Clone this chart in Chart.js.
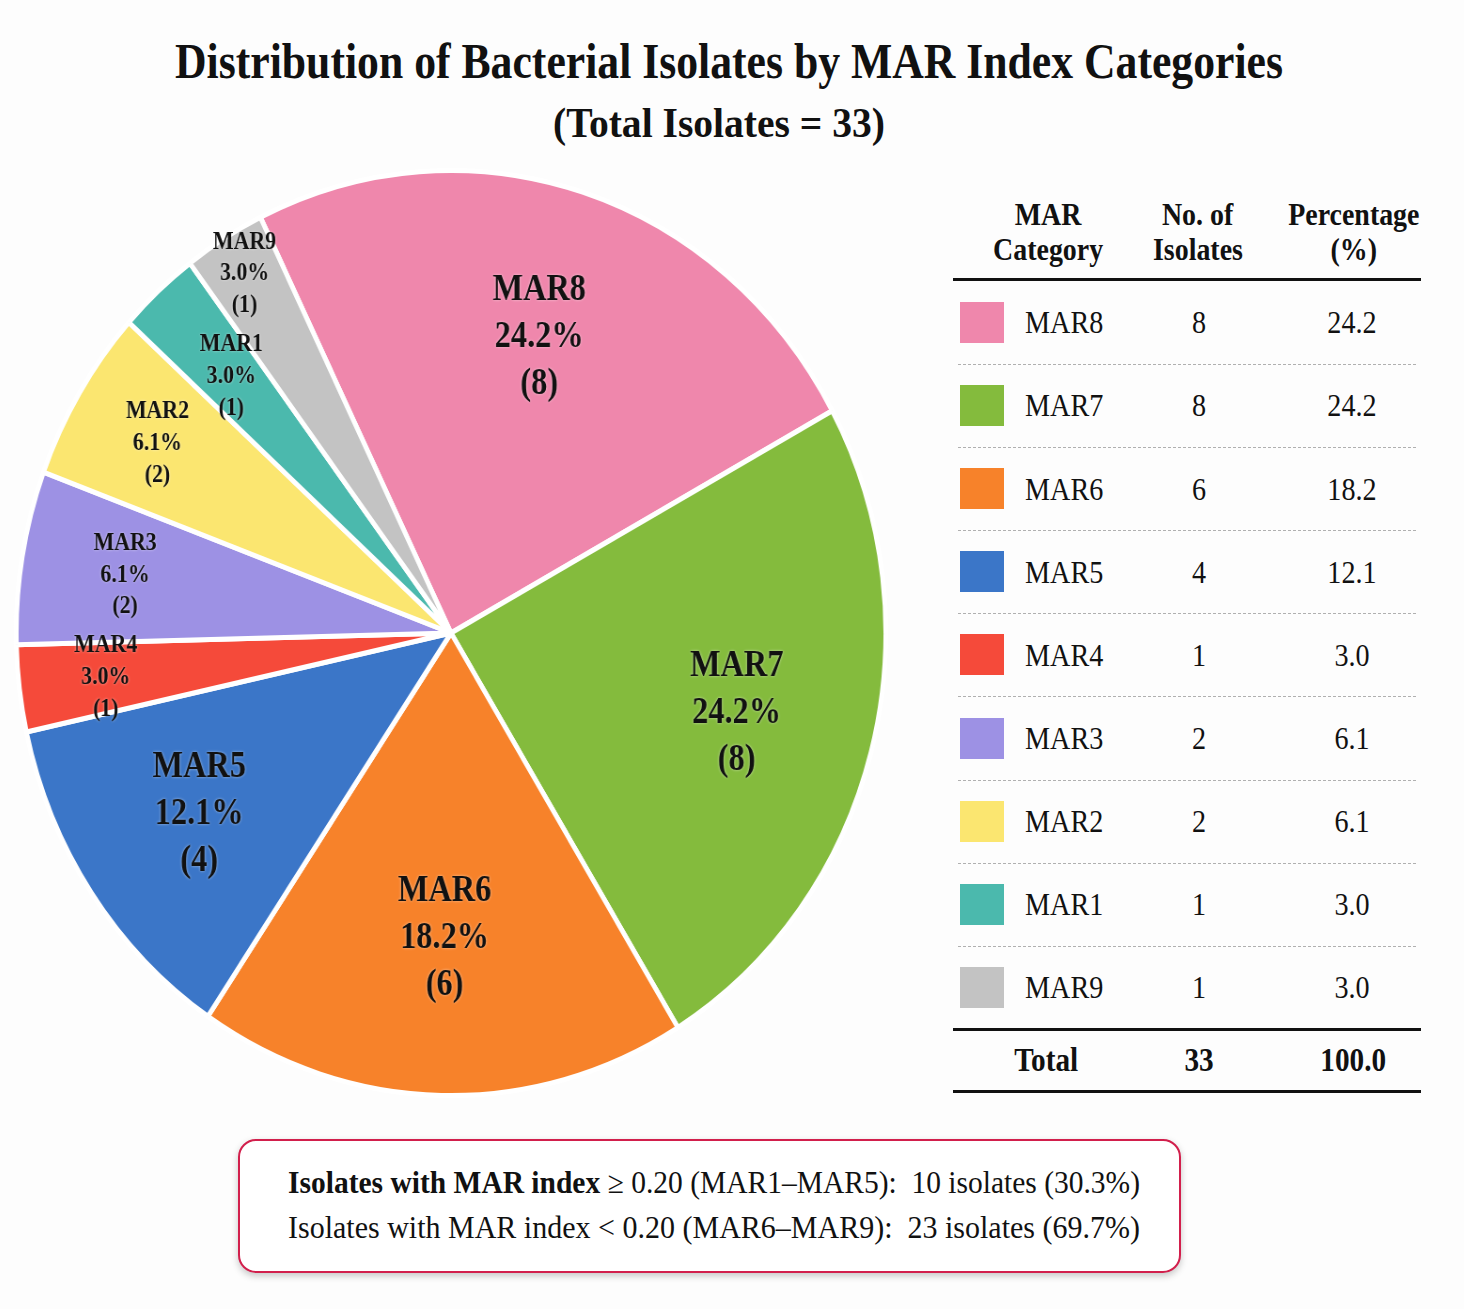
<!DOCTYPE html>
<html>
<head>
<meta charset="utf-8">
<script src="https://cdn.jsdelivr.net/npm/chart.js@4.4.1/dist/chart.umd.min.js"></script>
<style>
  html, body { margin:0; padding:0; background:#fdfdfd; }
  body { width:1464px; height:1309px; position:relative; overflow:hidden;
         font-family:'Liberation Serif','Times New Roman',serif; color:#111; }
  .fit { position:absolute; white-space:nowrap; line-height:1; transform-origin:0 0; }
  .cell { position:absolute; white-space:nowrap; line-height:1; transform-origin:50% 50%; }
  .hline { position:absolute; }
  #pieWrap { position:absolute; width:930px; height:930px; left:-14px; top:168px;
             transform:scaleX(0.94); transform-origin:50% 50%; }
  #box { position:absolute; left:238px; top:1139px; width:939px; height:130px;
         border:2.5px solid #d21f4c; border-radius:18px; background:#fff;
         box-shadow:0 3px 7px rgba(0,0,0,0.22); }
</style>
</head>
<body>
<div id="title" class="fit" style="font-weight:bold">Distribution of Bacterial Isolates by MAR Index Categories</div>
<div id="subtitle" class="fit" style="font-weight:bold">(Total Isolates = 33)</div>
<div id="pieWrap"><canvas id="pie"></canvas></div>
<div id="table"></div>
<div id="box"></div>
<div id="sum1" class="fit"></div>
<div id="sum2" class="fit"></div>
<script>
// ---- data ----
const categories = ['MAR8','MAR7','MAR6','MAR5','MAR4','MAR3','MAR2','MAR1','MAR9'];
const isolates = [8, 8, 6, 4, 1, 2, 2, 1, 1];
const percentages = [24.2, 24.2, 18.2, 12.1, 3.0, 6.1, 6.1, 3.0, 3.0];
const headerLines = [['MAR','Category'], ['No. of','Isolates'], ['Percentage','(%)']];
const totalRow = ['Total', '33', '100.0'];
const summaryBold = ['Isolates with MAR index', ''];
const summaryRest = [' \u2265 0.20 (MAR1\u2013MAR5):\u00a0 10 isolates (30.3%)',
                     'Isolates with MAR index < 0.20 (MAR6\u2013MAR9):\u00a0 23 isolates (69.7%)'];

// ---- styles ----
const sliceColors = ['#ef87ac','#84bb3d','#f7822a','#3b76c8','#f54a3a','#9d91e4','#fbe670','#4bb9ad','#c3c3c3'];
const labelRadius = [0.67, 0.68, 0.66, 0.70, 0.80, 0.76, 0.79, 0.75, 0.91];

// ---- text helpers ----
const ASC = 0.8375; // baseline offset for line-height 1 (Liberation Serif)
function fit(el, x, baseline, targetW, fs, align) {
  el.style.fontSize = fs + 'px';
  const w0 = el.getBoundingClientRect().width;
  el.style.top = (baseline - ASC * fs) + 'px';
  el.style.left = (align === 'left' ? x : x - targetW / 2) + 'px';
  el.style.transform = 'scaleX(' + (targetW / w0) + ')';
}
function cell(text, cx, cy, fs, bold, sx, align) {
  const d = document.createElement('div');
  d.className = 'cell';
  d.textContent = text;
  d.style.fontSize = fs + 'px';
  if (bold) d.style.fontWeight = 'bold';
  document.getElementById('table').appendChild(d);
  const w = d.getBoundingClientRect().width;
  d.style.top = (cy - 0.506 * fs) + 'px';
  if (align === 'left') {
    d.style.transformOrigin = '0 50%';
    d.style.left = cx + 'px';
  } else {
    d.style.left = (cx - w / 2) + 'px';
  }
  d.style.transform = 'scaleX(' + sx + ')';
  return d;
}
function hline(y, x0, x1, h, style) {
  const d = document.createElement('div');
  d.className = 'hline';
  d.style.left = x0 + 'px'; d.style.width = (x1 - x0) + 'px';
  if (style === 'dash') {
    d.style.top = y + 'px'; d.style.height = '0px';
    d.style.borderTop = '1.6px dashed #b0b0b0';
  } else {
    d.style.top = (y - h / 2) + 'px'; d.style.height = h + 'px';
    d.style.background = '#111';
  }
  document.getElementById('table').appendChild(d);
}

// ---- title ----
fit(document.getElementById('title'), 729, 78, 1108, 50);
fit(document.getElementById('subtitle'), 719, 137, 332, 43);

// ---- table ----
const colX = [1048, 1198, 1354];
headerLines.forEach((lines, c) => {
  cell(lines[0], colX[c], 215, 31, true, 0.9);
  cell(lines[1], colX[c], 250, 31, true, 0.9);
});
hline(279, 953, 1421, 3);
const rowY0 = 322.5, rowStep = 83.1;
categories.forEach((cat, i) => {
  const cy = rowY0 + i * rowStep;
  const sw = document.createElement('div');
  sw.style.cssText = 'position:absolute;left:960px;width:44px;height:41px;top:' + (cy - 20.5) + 'px;background:' + sliceColors[i];
  document.getElementById('table').appendChild(sw);
  cell(cat, 1025, cy, 32, false, 0.88, 'left');
  cell(String(isolates[i]), 1199, cy, 32, false, 0.88);
  cell(percentages[i].toFixed(1), 1352, cy, 32, false, 0.88);
  if (i < categories.length - 1) hline(cy + rowStep / 2, 958, 1416, 0, 'dash');
});
hline(1029, 953, 1421, 3);
cell(totalRow[0], 1046, 1060, 34, true, 0.86);
cell(totalRow[1], 1199, 1060, 34, true, 0.86);
cell(totalRow[2], 1353, 1060, 34, true, 0.86);
hline(1091, 953, 1421, 3);

// ---- summary box ----
['sum1', 'sum2'].forEach((id, k) => {
  const el = document.getElementById(id);
  if (summaryBold[k]) {
    const b = document.createElement('b'); b.textContent = summaryBold[k]; el.appendChild(b);
  }
  el.appendChild(document.createTextNode(summaryRest[k]));
  fit(el, 288, 1193 + k * 45, 852, 31, 'left');
});

// ---- pie ----
const sliceLabels = {
  id: 'sliceLabels',
  afterDatasetsDraw(chart) {
    const ctx = chart.ctx;
    const meta = chart.getDatasetMeta(0);
    meta.data.forEach((arc, i) => {
      const p = arc.getProps(['x', 'y', 'startAngle', 'endAngle', 'outerRadius'], true);
      const mid = (p.startAngle + p.endAngle) / 2;
      const big = isolates[i] >= 4;
      const fs = big ? 37 : 25;
      const r = p.outerRadius * labelRadius[i];
      const cx = p.x + Math.cos(mid) * r;
      const cy = p.y + Math.sin(mid) * r;
      const lines = [categories[i], percentages[i].toFixed(1) + '%', '(' + isolates[i] + ')'];
      ctx.save();
      ctx.translate(cx, cy);
      ctx.scale(0.93, 1);
      ctx.font = 'bold ' + fs + "px 'Liberation Serif', 'Times New Roman', serif";
      ctx.textAlign = 'center';
      ctx.textBaseline = 'middle';
      ctx.fillStyle = '#111';
      ctx.shadowColor = 'rgba(255,255,255,0.55)';
      ctx.shadowBlur = 3;
      const lh = fs * 1.27;
      lines.forEach((t, k) => ctx.fillText(t, 0, (k - 1) * lh));
      ctx.restore();
    });
  }
};

new Chart(document.getElementById('pie'), {
  type: 'pie',
  data: {
    labels: categories,
    datasets: [{
      data: isolates,
      backgroundColor: sliceColors,
      borderColor: '#ffffff',
      borderWidth: 5,
      offset: 0,
      hoverOffset: 0
    }]
  },
  options: {
    responsive: true,
    maintainAspectRatio: false,
    animation: false,
    rotation: -26,
    layout: { padding: 0 },
    plugins: { legend: { display: false }, tooltip: { enabled: false }, title: { display: false } },
    events: []
  },
  plugins: [sliceLabels]
});
</script>
</body>
</html>
